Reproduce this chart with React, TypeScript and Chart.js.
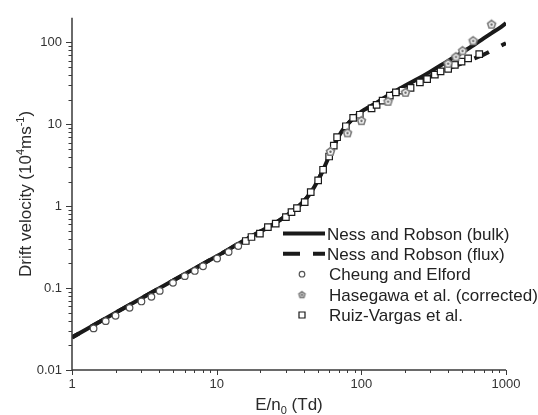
import { useEffect, useRef } from "react";
import { Chart, registerables } from "chart.js";

Chart.register(...registerables);

const FONT = '"Liberation Sans", Arial, Helvetica, sans-serif';
const INK = "#1a1a1a";
const AXIS = "#3a3a3a";

// Ness and Robson theory, bulk drift velocity (E/n0 in Td, W in 10^4 m/s)
const bulkE = [1, 2, 5, 10, 15, 20, 25, 30, 35, 40, 45, 50, 55, 60, 65, 70, 75, 80, 90, 100, 120, 150, 200, 250, 300, 400, 500, 600, 700, 800, 900, 1000];
const bulkW = [0.025, 0.05, 0.124, 0.245, 0.37, 0.49, 0.61, 0.76, 0.93, 1.15, 1.5, 2.05, 2.9, 4.1, 5.6, 7.2, 8.7, 10.0, 12.3, 14.3, 17.2, 22, 29.5, 36.5, 44, 60, 76, 93, 112, 131, 150, 172];

// Ness and Robson theory, flux drift velocity
const fluxE = [1, 2, 5, 10, 15, 20, 25, 30, 35, 40, 45, 50, 55, 60, 65, 70, 75, 80, 90, 100, 120, 150, 200, 250, 300, 400, 500, 600, 700, 800, 900, 1000];
const fluxW = [0.025, 0.05, 0.124, 0.245, 0.37, 0.49, 0.61, 0.76, 0.93, 1.15, 1.5, 2.05, 2.9, 4.1, 5.6, 7.2, 8.7, 10.0, 12.3, 14.3, 17.0, 21.5, 27.5, 33.5, 38.5, 48, 56, 63.5, 71, 80, 89, 98];

// Cheung and Elford
const cheungE = [1.41, 1.71, 2.0, 2.5, 3.02, 3.54, 4.04, 4.99, 6.02, 7.06, 8.05, 10.07, 12.1, 14.1];
const cheungW = [0.0322, 0.0395, 0.0459, 0.0574, 0.0687, 0.0782, 0.0925, 0.116, 0.14, 0.162, 0.185, 0.23, 0.276, 0.327];

// Hasegawa et al. (corrected)
const hasegawaE = [61.2, 80.3, 100.2, 153, 202, 398, 451, 501, 593, 795];
const hasegawaW = [4.66, 7.87, 11.1, 19.1, 24.6, 55.5, 67.0, 79.3, 105, 167];

// Ruiz-Vargas et al.
const ruizE = [15.9, 17.4, 19.9, 22.6, 25.6, 30.1, 32.9, 35.9, 40.6, 44.7, 50.3, 54.4, 59.9, 64.5, 68.0, 78.2, 87.8, 97.6, 117.7, 127.5, 140.3, 157.4, 173.3, 192.7, 218.9, 254.0, 285.1, 322.3, 352.9, 398.1, 443.2, 492.9, 547.6, 653.2];
const ruizW = [0.376, 0.421, 0.463, 0.557, 0.613, 0.738, 0.849, 0.95, 1.12, 1.49, 2.07, 2.79, 4.05, 5.51, 6.96, 9.48, 12.0, 13.1, 15.7, 17.3, 19.5, 22.4, 24.6, 25.8, 27.9, 32.6, 35.6, 40.5, 44.4, 47.5, 53.1, 58.2, 63.8, 72.2];

// Axis ranges and ticks
const xRange = [1, 1000];
const yRange = [0.01, 200];
const xDecades = [1, 10, 100];
const yDecades = [0.01, 0.1, 1, 10];
const minorSteps = [1, 2, 3, 4, 5, 6, 7, 8, 9];
const xTickLabels = [1, 10, 100, 1000];
const yTickLabels = [0.01, 0.1, 1, 10, 100];

const xTicks = [...xDecades.flatMap((d) => minorSteps.map((m) => d * m)), 1000];
const yTicks = [...yDecades.flatMap((d) => minorSteps.map((m) => d * m)), 100];

const legendLabels = [
  "Ness and Robson (bulk)",
  "Ness and Robson (flux)",
  "Cheung and Elford",
  "Hasegawa et al. (corrected)",
  "Ruiz-Vargas et al.",
];

const isDecade = (v: number) => Math.abs(Math.log10(v) - Math.round(Math.log10(v))) < 1e-6;
const pairs = (xs: number[], ys: number[]) => xs.map((x, i) => ({ x, y: ys[i] }));

function makePentagon(r: number): HTMLCanvasElement {
  const c = document.createElement("canvas");
  const s = Math.ceil(r * 2 + 4);
  c.width = s;
  c.height = s;
  const g = c.getContext("2d")!;
  const cx = s / 2;
  const cy = s / 2 + 0.3;
  g.beginPath();
  for (let k = 0; k < 5; k++) {
    const a = -Math.PI / 2 + (k * 2 * Math.PI) / 5;
    const px = cx + r * Math.cos(a);
    const py = cy + r * Math.sin(a);
    if (k === 0) g.moveTo(px, py);
    else g.lineTo(px, py);
  }
  g.closePath();
  g.fillStyle = "#f2f2f2";
  g.fill();
  g.strokeStyle = "#7d7d7d";
  g.lineWidth = 1.6;
  g.stroke();
  g.beginPath();
  g.arc(cx, cy, 1.2, 0, Math.PI * 2);
  g.fillStyle = "#6a6a6a";
  g.fill();
  return c;
}

type Part = [string, number, number];

function drawParts(ctx: CanvasRenderingContext2D, parts: Part[], cx: number, baseline: number) {
  let total = 0;
  const widths = parts.map(([t, size]) => {
    ctx.font = `${size}px ${FONT}`;
    const w = ctx.measureText(t).width;
    total += w;
    return w;
  });
  let x = cx - total / 2;
  parts.forEach(([t, size, dy], i) => {
    ctx.font = `${size}px ${FONT}`;
    ctx.fillText(t, x, baseline + dy);
    x += widths[i];
  });
}

export default function App() {
  const canvasRef = useRef<HTMLCanvasElement | null>(null);

  useEffect(() => {
    const canvas = canvasRef.current;
    if (!canvas) return;
    const pent = makePentagon(4.2);
    const pentSmall = makePentagon(3.2);

    const decor = {
      id: "decor",
      afterDraw(chart: any) {
        const ctx: CanvasRenderingContext2D = chart.ctx;
        const { left, right, top, bottom } = chart.chartArea;
        const xs = chart.scales.x;
        const ys = chart.scales.y;
        ctx.save();

        // axis lines
        ctx.strokeStyle = AXIS;
        ctx.lineWidth = 1.5;
        ctx.beginPath();
        ctx.moveTo(left, top);
        ctx.lineTo(left, bottom);
        ctx.lineTo(right, bottom);
        ctx.stroke();

        // tick marks, pointing outwards
        ctx.lineWidth = 1;
        ctx.beginPath();
        for (const t of ys.ticks) {
          const y = Math.round(ys.getPixelForValue(t.value)) + 0.5;
          const len = isDecade(t.value) ? 6 : 3.5;
          ctx.moveTo(left - len, y);
          ctx.lineTo(left, y);
        }
        for (const t of xs.ticks) {
          const x = Math.round(xs.getPixelForValue(t.value)) + 0.5;
          const len = isDecade(t.value) ? 5 : 3;
          ctx.moveTo(x, bottom);
          ctx.lineTo(x, bottom + len);
        }
        ctx.stroke();

        // axis titles
        ctx.fillStyle = "#2a2a2a";
        ctx.textBaseline = "alphabetic";
        ctx.textAlign = "left";
        drawParts(ctx, [["E/n", 17, 0], ["0", 11, 4], [" (Td)", 17, 0]], (left + right) / 2, 410);
        ctx.save();
        ctx.translate(31, (top + bottom) / 2);
        ctx.rotate(-Math.PI / 2);
        drawParts(
          ctx,
          [["Drift velocity (10", 17, 0], ["4", 11, -7], ["ms", 17, 0], ["-1", 11, -7], [")", 17, 0]],
          0,
          0
        );
        ctx.restore();

        // legend
        const rows = [233.5, 253.8, 274.2, 294.6, 315];
        const mx = 302;
        ctx.strokeStyle = INK;
        ctx.lineWidth = 4;
        ctx.beginPath();
        ctx.moveTo(283, rows[0]);
        ctx.lineTo(325, rows[0]);
        ctx.stroke();
        ctx.setLineDash([17, 13]);
        ctx.beginPath();
        ctx.moveTo(283, rows[1]);
        ctx.lineTo(325, rows[1]);
        ctx.stroke();
        ctx.setLineDash([]);

        ctx.lineWidth = 1.2;
        ctx.strokeStyle = "#555";
        ctx.fillStyle = "#fff";
        ctx.beginPath();
        ctx.arc(mx, rows[2], 2.8, 0, Math.PI * 2);
        ctx.fill();
        ctx.stroke();
        ctx.drawImage(pentSmall, mx - pentSmall.width / 2, rows[3] - pentSmall.height / 2);
        ctx.strokeStyle = INK;
        ctx.beginPath();
        ctx.rect(mx - 3, rows[4] - 3, 6, 6);
        ctx.fill();
        ctx.stroke();

        ctx.fillStyle = "#222";
        ctx.font = `17px ${FONT}`;
        legendLabels.forEach((label, i) => {
          ctx.fillText(label, i < 2 ? 327 : 329, rows[i] + 6);
        });
        ctx.restore();
      },
    };

    const chart = new Chart(canvas, {
      type: "scatter",
      data: {
        datasets: [
          {
            label: legendLabels[1],
            data: pairs(fluxE, fluxW),
            showLine: true,
            borderColor: INK,
            borderWidth: 4,
            borderDash: [16, 14],
            borderDashOffset: 8,
            pointRadius: 0,
            cubicInterpolationMode: "monotone",
            order: 6,
          },
          {
            label: legendLabels[0],
            data: pairs(bulkE, bulkW),
            showLine: true,
            borderColor: INK,
            borderWidth: 4,
            pointRadius: 0,
            cubicInterpolationMode: "monotone",
            order: 5,
          },
          {
            label: legendLabels[2],
            data: pairs(cheungE, cheungW),
            pointStyle: "circle",
            pointRadius: 3.3,
            borderColor: "#505050",
            backgroundColor: "#ffffff",
            borderWidth: 1.2,
            order: 3,
          },
          {
            label: legendLabels[4],
            data: pairs(ruizE, ruizW),
            pointStyle: "rect",
            pointRadius: 4.6,
            borderColor: INK,
            backgroundColor: "#ffffff",
            borderWidth: 1.2,
            order: 2,
          },
          {
            label: legendLabels[3],
            data: pairs(hasegawaE, hasegawaW),
            pointStyle: pent as any,
            pointRadius: 4,
            order: 1,
          },
        ],
      },
      options: {
        responsive: false,
        animation: false,
        events: [],
        layout: { padding: { top: 17, right: 32, left: 0, bottom: 0 } },
        plugins: { legend: { display: false }, tooltip: { enabled: false } },
        scales: {
          x: {
            type: "logarithmic",
            min: xRange[0],
            max: xRange[1],
            grid: { display: false, drawTicks: false },
            border: { display: false },
            afterBuildTicks: (s: any) => {
              s.ticks = xTicks.map((v) => ({ value: v }));
            },
            afterFit: (s: any) => {
              s.height = 45;
            },
            ticks: {
              autoSkip: false,
              maxRotation: 0,
              padding: 7,
              color: "#333",
              font: { family: FONT, size: 13 },
              callback: (v: any) => (xTickLabels.includes(Number(v)) ? String(v) : ""),
            },
          },
          y: {
            type: "logarithmic",
            min: yRange[0],
            max: yRange[1],
            grid: { display: false, drawTicks: false },
            border: { display: false },
            afterBuildTicks: (s: any) => {
              s.ticks = yTicks.map((v) => ({ value: v }));
            },
            afterFit: (s: any) => {
              s.width = 72;
            },
            ticks: {
              autoSkip: false,
              padding: 10,
              color: "#333",
              font: { family: FONT, size: 13 },
              callback: (v: any) => (yTickLabels.includes(Number(v)) ? String(v) : ""),
            },
          },
        },
      },
      plugins: [decor],
    } as any);

    return () => chart.destroy();
  }, []);

  return (
    <div style={{ position: "absolute", left: 0, top: 0, width: 538, height: 415, background: "#fff" }}>
      <canvas ref={canvasRef} width={538} height={415} style={{ display: "block" }} />
    </div>
  );
}
